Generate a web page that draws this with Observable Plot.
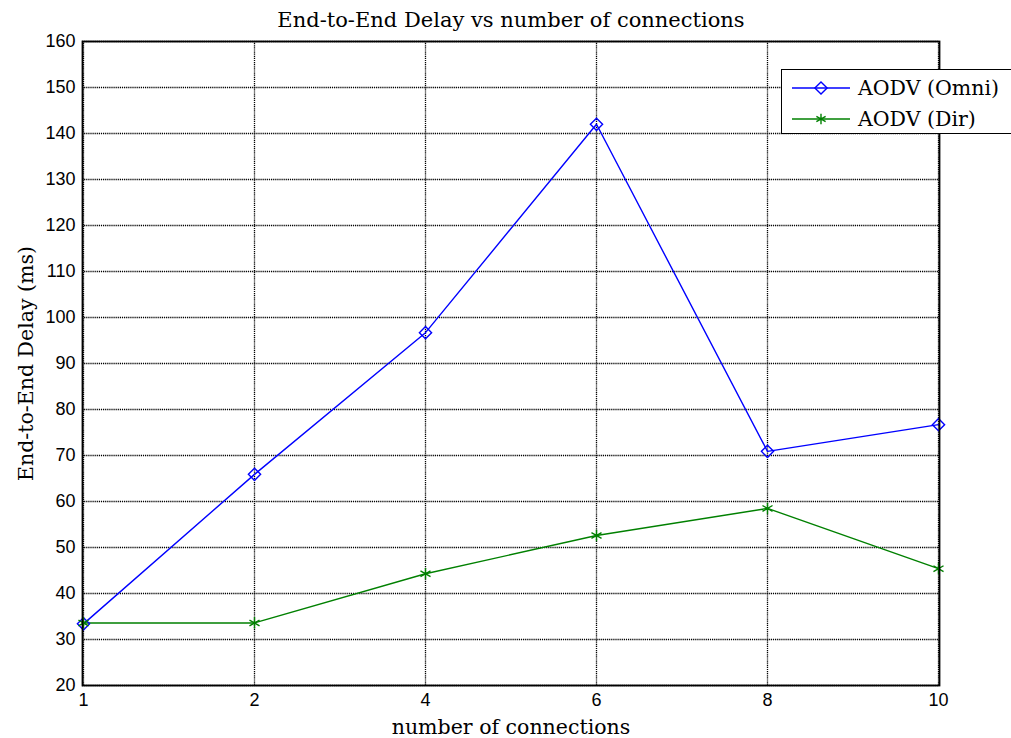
<!DOCTYPE html>
<html><head><meta charset="utf-8">
<script src="https://cdn.jsdelivr.net/npm/d3@7"></script>
<script src="https://cdn.jsdelivr.net/npm/@observablehq/plot@0.6"></script>
<style>
body{margin:0;background:#fff;}
#wrap{position:relative;width:1011px;height:738px;overflow:hidden;background:#fff;}
#legend{position:absolute;left:781px;top:69px;width:260px;height:63px;border:1px solid #000;background:#fff;font-family:"DejaVu Serif",serif;font-size:20.5px;color:#000;}
.row{position:absolute;left:0;height:24px;display:flex;align-items:center;}
.row svg{display:block;margin-left:10px;margin-right:6px;}
</style></head><body><div id="wrap"><div id="legend"></div></div>
<script>
const connections = ["1", "2", "4", "6", "8", "10"];
const omniDelay = [33.4, 65.9, 96.7, 142.0, 70.9, 76.7];
const dirDelay = [33.6, 33.6, 44.3, 52.6, 58.5, 45.4];
const yTicks = [20, 30, 40, 50, 60, 70, 80, 90, 100, 110, 120, 130, 140, 150, 160];
const seriesNames = ["AODV (Omni)", "AODV (Dir)"];
const seriesColors = ["#0000ff", "#008000"];
const seriesSymbols = ["diamond2", "asterisk"];
const titleText = "End-to-End Delay vs number of connections";
const xLabel = "number of connections";
const yLabel = "End-to-End Delay (ms)";

const rows = [];
[omniDelay, dirDelay].forEach((vals, s) => {
  vals.forEach((v, i) => rows.push({x: connections[i], y: v, series: seriesNames[s]}));
});

const serif = "DejaVu Serif, serif";
const sans = "Liberation Sans, Arial, sans-serif";

const chart = Plot.plot({
  width: 1011,
  height: 738,
  marginLeft: 82,
  marginRight: 72,
  marginTop: 41,
  marginBottom: 53,
  style: {background: "#fff", color: "#000", fontSize: "18px", fontFamily: sans},
  x: {type: "point", domain: connections, padding: 0, label: null},
  y: {domain: [20, 160], label: null},
  marks: [
    Plot.ruleY(yTicks, {stroke: "#000", strokeDasharray: "1.2,0.9", strokeWidth: 1.3, strokeOpacity: 1}),
    Plot.ruleX(connections, {stroke: "#000", strokeDasharray: "1.2,0.9", strokeWidth: 1.3, strokeOpacity: 1}),
    Plot.axisY({ticks: yTicks, tickSize: 0, tickPadding: 7, fontSize: 18, fontFamily: sans, label: null}),
    Plot.axisX({tickSize: 0, tickPadding: 8, fontSize: 18, fontFamily: sans, label: null}),
    Plot.line(rows, {x: "x", y: "y", z: "series", stroke: "series", strokeWidth: 1.4}),
    Plot.dot(rows, {x: "x", y: "y", symbol: "series", stroke: "series", fill: "none", r: 5.5, strokeWidth: 1.4}),
    Plot.frame({stroke: "#000", strokeWidth: 1.8}),
    Plot.text([titleText], {frameAnchor: "top", dy: -21, fontFamily: serif, fontSize: 21, lineAnchor: "middle", textAnchor: "middle", fill: "#000"}),
    Plot.text([xLabel], {frameAnchor: "bottom", dy: 42, fontFamily: serif, fontSize: 20.5, lineAnchor: "middle", textAnchor: "middle", fill: "#000"}),
    Plot.text([yLabel], {frameAnchor: "left", dx: -56, rotate: -90, fontFamily: serif, fontSize: 20.5, lineAnchor: "middle", textAnchor: "middle", fill: "#000"})
  ],
  color: {domain: seriesNames, range: seriesColors},
  symbol: {domain: seriesNames, range: seriesSymbols}
});
const wrap = document.getElementById("wrap");
wrap.insertBefore(chart, wrap.firstChild);

const legend = document.getElementById("legend");
seriesNames.forEach((name, i) => {
  const row = document.createElement("div");
  row.className = "row";
  row.style.top = (6 + i * 31) + "px";
  const sym = d3.symbol(i === 0 ? d3.symbolDiamond2 : d3.symbolAsterisk, i === 0 ? 95 : 80)();
  row.innerHTML = `<svg width="60" height="20"><line x1="0" y1="10" x2="58" y2="10" stroke="${seriesColors[i]}" stroke-width="1.4"/><path transform="translate(29,10)" d="${sym}" fill="none" stroke="${seriesColors[i]}" stroke-width="1.4"/></svg><span>${name}</span>`;
  legend.appendChild(row);
});
</script></body></html>
